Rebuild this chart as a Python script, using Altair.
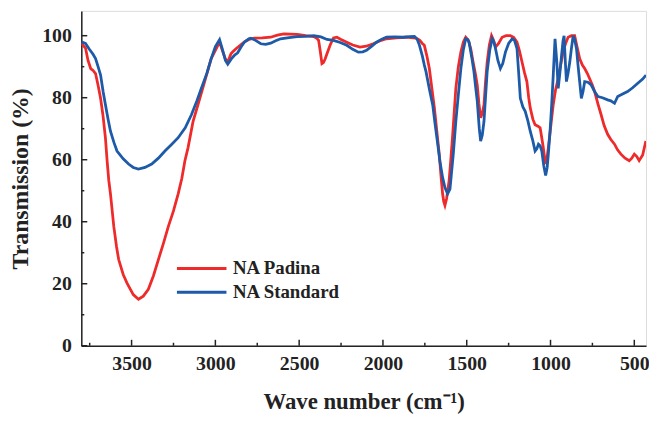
import altair as alt
import pandas as pd

series_names = ["NA Padina", "NA Standard"]
series_colors = ["#ee2a2a", "#1d5aa8"]

padina_wn = [3800, 3775, 3760, 3744, 3730, 3715, 3700, 3685, 3670, 3656, 3646, 3636, 3626, 3606, 3590, 3577,
             3550, 3528, 3490, 3459, 3430, 3400, 3370, 3340, 3310, 3281, 3250, 3222, 3200, 3182, 3163, 3133,
             3104, 3064, 3025, 2985, 2972, 2960, 2940, 2926, 2907, 2896, 2877, 2850, 2827, 2800, 2768, 2720,
             2670, 2630, 2591, 2550, 2512, 2460, 2413, 2395, 2384, 2374, 2364, 2355, 2345, 2334, 2315, 2295,
             2275, 2250, 2216, 2180, 2137, 2100, 2058, 2020, 1979, 1920, 1861, 1820, 1802, 1780, 1765, 1753,
             1738, 1723, 1708, 1693, 1678, 1664, 1654, 1644, 1637, 1630, 1620, 1605, 1595, 1585, 1575, 1565,
             1550, 1535, 1520, 1506, 1490, 1476, 1462, 1447, 1437, 1427, 1417, 1407, 1397, 1388, 1378, 1365,
             1352, 1340, 1328, 1310, 1289, 1265, 1240, 1220, 1200, 1185, 1170, 1155, 1141, 1130, 1121, 1105,
             1092, 1075, 1062, 1052, 1043, 1035, 1029, 1020, 1013, 998, 984, 970, 954, 940, 925, 910,
             895, 875, 856, 840, 826, 810, 796, 780, 767, 750, 737, 717, 698, 680, 659, 640,
             618, 600, 580, 555, 530, 515, 500, 485, 471, 450, 431]
padina_t = [97.5, 96, 92, 89.4, 88.8, 87.8, 84, 79.8, 74, 67, 59.6, 53.3, 49, 38.4, 32, 27.8,
            23, 20.3, 16.5, 15.0, 16, 18.2, 22.5, 27.8, 33, 38.4, 43.5, 49, 54, 59.6, 63.9, 72.4,
            77.7, 85.2, 92.6, 96.9, 97.5, 95.5, 92.5, 91.5, 94.2, 94.8, 95.8, 97, 98, 98.8, 99.2, 99.3,
            99.5, 100.2, 100.6, 100.5, 100.4, 100, 99.7, 99.2, 98.5, 95, 91, 91.3, 92.5, 94.2, 97, 99.3,
            99.5, 98.8, 97.9, 97, 96.3, 96.6, 97.4, 98.3, 99, 99.3, 99.5, 99.3, 99.2, 98.5, 97.5, 96.9,
            93.5, 89.4, 83, 76.7, 69, 61.8, 55, 49, 46.5, 45.3, 47.5, 53.3, 60, 67.1, 75, 83,
            90, 94.7, 98, 99.5, 98.5, 95.8, 91.5, 87.3, 84, 78, 73.5, 75, 77.7, 85, 91.5, 97,
            100, 98.5, 96.3, 97.5, 99.5, 100, 100, 99.5, 97.9, 95, 91.5, 88, 85.2, 80, 76.7, 73,
            71.3, 70.8, 70.3, 67, 63.9, 60.5, 58.6, 61, 63.9, 71, 77.7, 82.5, 86.2, 90.5, 94.7, 97.5,
            99.5, 100, 100, 96, 92.6, 90.5, 89.4, 87.8, 86.2, 84, 82, 78, 74.5, 71, 68.2, 66.5,
            65, 63.2, 61.8, 60.5, 59.7, 60.5, 61.8, 61, 59.7, 61.5, 66]

standard_wn = [3800, 3775, 3754, 3730, 3715, 3700, 3685, 3670, 3656, 3640, 3626, 3605, 3587, 3550, 3518, 3490,
               3459, 3420, 3380, 3340, 3301, 3260, 3222, 3180, 3143, 3110, 3084, 3050, 3025, 3000, 2975, 2960,
               2940, 2926, 2905, 2886, 2867, 2845, 2827, 2800, 2788, 2760, 2729, 2700, 2670, 2640, 2611, 2560,
               2512, 2460, 2413, 2370, 2334, 2295, 2255, 2216, 2180, 2147, 2120, 2098, 2070, 2038, 2010, 1979,
               1930, 1880, 1840, 1812, 1795, 1782, 1765, 1753, 1743, 1720, 1703, 1690, 1673, 1660, 1644, 1630,
               1614, 1600, 1595, 1580, 1565, 1550, 1535, 1520, 1506, 1495, 1486, 1470, 1457, 1447, 1437, 1425,
               1417, 1407, 1397, 1388, 1378, 1362, 1348, 1338, 1328, 1314, 1299, 1285, 1269, 1250, 1229, 1215,
               1200, 1190, 1180, 1165, 1151, 1135, 1121, 1105, 1092, 1082, 1072, 1062, 1052, 1040, 1029, 1020,
               1013, 1003, 993, 983, 973, 963, 954, 944, 934, 925, 919, 912, 905, 895, 885, 875,
               865, 855, 845, 835, 826, 816, 806, 796, 777, 757, 737, 717, 690, 659, 640, 618,
               599, 570, 540, 510, 481, 450, 430]
standard_t = [98, 97.5, 95.8, 94, 92.6, 90, 87.3, 82, 77.7, 73, 69.2, 65.5, 62.8, 60.3, 58.6, 57.5,
              57.0, 57.5, 58.6, 60.5, 62.8, 65, 67.1, 70.3, 74.5, 79, 83, 88, 92.6, 96.5, 98.7, 96,
              92, 90.8, 92.5, 93.7, 94.5, 96.5, 97.9, 99, 99.2, 98.5, 97.4, 97.2, 97.6, 98.4, 99, 99.4,
              99.7, 99.8, 100, 99.6, 98.8, 98.5, 97.8, 96.9, 95.6, 94.7, 94.8, 95.3, 96.5, 97.9, 98.8, 99.5,
              99.6, 99.5, 99.7, 99.8, 98.8, 96.9, 93.5, 90.5, 88.4, 82, 77.7, 72, 65, 59.5, 54.3, 51,
              49, 50.5, 53.3, 62, 72.4, 81, 89.4, 95.5, 99, 98.8, 97.9, 93, 88.4, 83.5, 78.8, 70,
              66, 68, 72.4, 80, 88.4, 95.5, 99, 98, 95.8, 92, 89.4, 91, 94.7, 97.5, 99, 98.5,
              95.8, 88, 79.8, 77, 75.6, 72.5, 69.2, 66, 62.8, 63.5, 65, 64.5, 62.8, 58, 54.9, 57.5,
              61.8, 69, 77.7, 88, 99, 92, 83, 88, 93.7, 98.5, 100, 92, 85.2, 88, 91.5, 96,
              100, 98.5, 95.8, 90, 85.2, 79.8, 82, 85.2, 85, 84.1, 82, 80.4, 80, 79.3, 79, 78.2,
              80.4, 81.2, 82, 83.2, 84.6, 86, 87.3]

x_major = [3500, 3000, 2500, 2000, 1500, 1000, 500]
x_minor = [3750, 3250, 2750, 2250, 1750, 1250, 750]
y_major = [0, 20, 40, 60, 80, 100]
y_minor = [10, 30, 50, 70, 90]

rows = []
for name, wns, ts in [(series_names[0], padina_wn, padina_t), (series_names[1], standard_wn, standard_t)]:
    for w, t in zip(wns, ts):
        rows.append({"series": name, "wn": w, "T": t})
df = pd.DataFrame(rows)

W, H = 570, 338
FONT = "Liberation Serif"
INK = "#222"
xscale = alt.Scale(domain=[430, 3800], reverse=True, nice=False, zero=False)
yscale = alt.Scale(domain=[0, 108], nice=False, zero=False)

main_x = alt.Axis(values=x_major, format="d", ticks=False, grid=False, domain=True, domainColor=INK,
                  domainWidth=1.5, labelFont=FONT, labelFontSize=20, labelFontWeight="bold",
                  labelColor=INK, labelPadding=8, title="Wave number (cm⁻¹)", titleFont=FONT,
                  titleFontSize=23, titleFontWeight="bold", titleColor=INK, titlePadding=17)
main_y = alt.Axis(values=y_major, format="d", ticks=False, grid=False, domain=True, domainColor=INK,
                  domainWidth=1.5, labelFont=FONT, labelFontSize=20, labelFontWeight="bold",
                  labelColor=INK, labelPadding=10, title="Transmission (%)", titleFont=FONT,
                  titleFontSize=24, titleFontWeight="bold", titleColor=INK, titlePadding=9)

lines = alt.Chart(df).mark_line(strokeWidth=2.8, clip=True).encode(
    x=alt.X("wn:Q", scale=xscale, axis=main_x),
    y=alt.Y("T:Q", scale=yscale, axis=main_y),
    color=alt.Color("series:N", scale=alt.Scale(domain=series_names, range=series_colors),
                    legend=alt.Legend(title=None, orient="none", legendX=95, legendY=248,
                                      symbolType="stroke", symbolSize=2500, symbolStrokeWidth=3,
                                      clipHeight=24, rowPadding=0, padding=0, labelOffset=5,
                                      labelFont=FONT, labelFontSize=19, labelFontWeight="bold",
                                      labelColor=INK)),
    order=alt.Order("wn:Q", sort="descending"),
)

xt_major = pd.DataFrame({"wn": x_major})
xt_minor = pd.DataFrame({"wn": x_minor})
yt_major = pd.DataFrame({"T": y_major})
yt_minor = pd.DataFrame({"T": y_minor})


def xticks(d, size):
    return alt.Chart(d).mark_rule(color=INK, strokeWidth=1.5).encode(
        x=alt.X("wn:Q", scale=xscale, axis=main_x), y=alt.value(H), y2=alt.value(H - size))


def yticks(d, size):
    return alt.Chart(d).mark_rule(color=INK, strokeWidth=1.5).encode(
        y=alt.Y("T:Q", scale=yscale, axis=main_y), x=alt.value(0), x2=alt.value(size))


chart = alt.layer(
    lines, xticks(xt_major, 6), xticks(xt_minor, 3), yticks(yt_major, 6), yticks(yt_minor, 3)
).properties(
    width=W, height=H, autosize=alt.AutoSizeParams(type="none"),
    padding={"left": 74, "top": 1, "right": 3, "bottom": 70},
).configure_view(stroke=INK, strokeWidth=1.5).configure(background="white")

chart.save("out.html", embed_options={"renderer": "svg", "actions": False})
